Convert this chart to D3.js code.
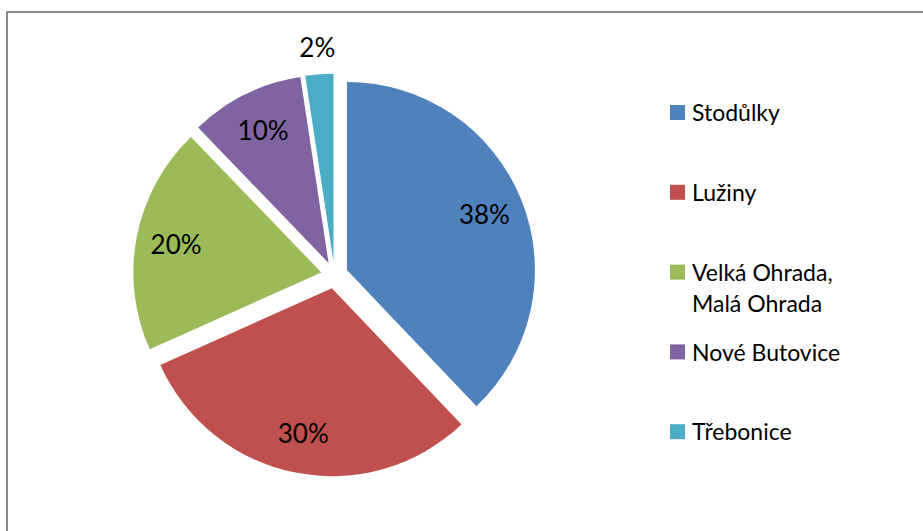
<!DOCTYPE html>
<html>
<head>
<meta charset="utf-8">
<script src="https://cdn.jsdelivr.net/npm/d3@7"></script>
<style>
  body { margin: 0; background: #fff; }
  text { font-family: Lato, "Open Sans", sans-serif; fill: #000; }
</style>
</head>
<body>
<script>
// data (slice angles), labels show rounded percent
var categories = ['Stodůlky', 'Lužiny', 'Velká Ohrada, Malá Ohrada', 'Nové Butovice', 'Třebonice'];
var values = [37.9, 30.4, 19.5, 9.8, 2.4];
var colors = ['#4F81BD', '#C0504D', '#9BBB59', '#8064A2', '#4BACC6'];

var width = 923, height = 531;
var cx = 334.5, cy = 275, radius = 188, explode = 13.4;

var svg = d3.select('body')
  .append('svg')
  .attr('width', width)
  .attr('height', height);

// chart border (runs off the right and bottom)
svg.append('rect')
  .attr('x', 7)
  .attr('y', 12)
  .attr('width', 1000)
  .attr('height', 1000)
  .attr('fill', 'none')
  .attr('stroke', '#8a8a8a')
  .attr('stroke-width', 2);

var items = categories.map(function(c, i) {
  return { name: c, value: values[i], color: colors[i] };
});

var pie = d3.pie()
  .sort(null)
  .value(function(d) { return d.value; });

var arc = d3.arc().innerRadius(0).outerRadius(radius);

var total = d3.sum(values);
var slices = pie(items);

var g = svg.append('g').attr('transform', 'translate(' + cx + ',' + cy + ')');

function midDir(d) {
  var a = (d.startAngle + d.endAngle) / 2;
  return [Math.sin(a), -Math.cos(a)];
}

g.selectAll('path')
  .data(slices)
  .enter()
  .append('path')
  .attr('d', arc)
  .attr('fill', function(d) { return d.data.color; })
  .attr('transform', function(d) {
    var m = midDir(d);
    return 'translate(' + (m[0] * explode) + ',' + (m[1] * explode) + ')';
  });

// percentage labels: inside for big slices, outside for the tiny one
g.selectAll('text.label')
  .data(slices)
  .enter()
  .append('text')
  .attr('class', 'label')
  .attr('text-anchor', 'middle')
  .attr('dy', '0.36em')
  .style('font-size', '26px')
  .attr('x', function(d) {
    var r = d.data.value / total < 0.05 ? 215 : 148;
    return midDir(d)[0] * (r + explode);
  })
  .attr('y', function(d) {
    var r = d.data.value / total < 0.05 ? 215 : 148;
    return midDir(d)[1] * (r + explode);
  })
  .text(function(d) { return Math.round(d.data.value / total * 100) + '%'; });

// legend
var legend = svg.append('g').attr('transform', 'translate(670,113)');

var rows = legend.selectAll('g')
  .data(items)
  .enter()
  .append('g')
  .attr('transform', function(d, i) { return 'translate(0,' + (i * 79.8) + ')'; });

rows.append('rect')
  .attr('x', 0)
  .attr('y', -8)
  .attr('width', 15)
  .attr('height', 15)
  .attr('fill', function(d) { return d.color; });

rows.append('text')
  .attr('x', 22)
  .style('font-size', '23px')
  .each(function(d) {
    var lines = d.name.split(', ');
    var t = d3.select(this);
    lines.forEach(function(l, k) {
      t.append('tspan')
        .attr('x', 22)
        .attr('dy', k === 0 ? '0.36em' : '31px')
        .text(k < lines.length - 1 ? l + ',' : l);
    });
  });
</script>
</body>
</html>
